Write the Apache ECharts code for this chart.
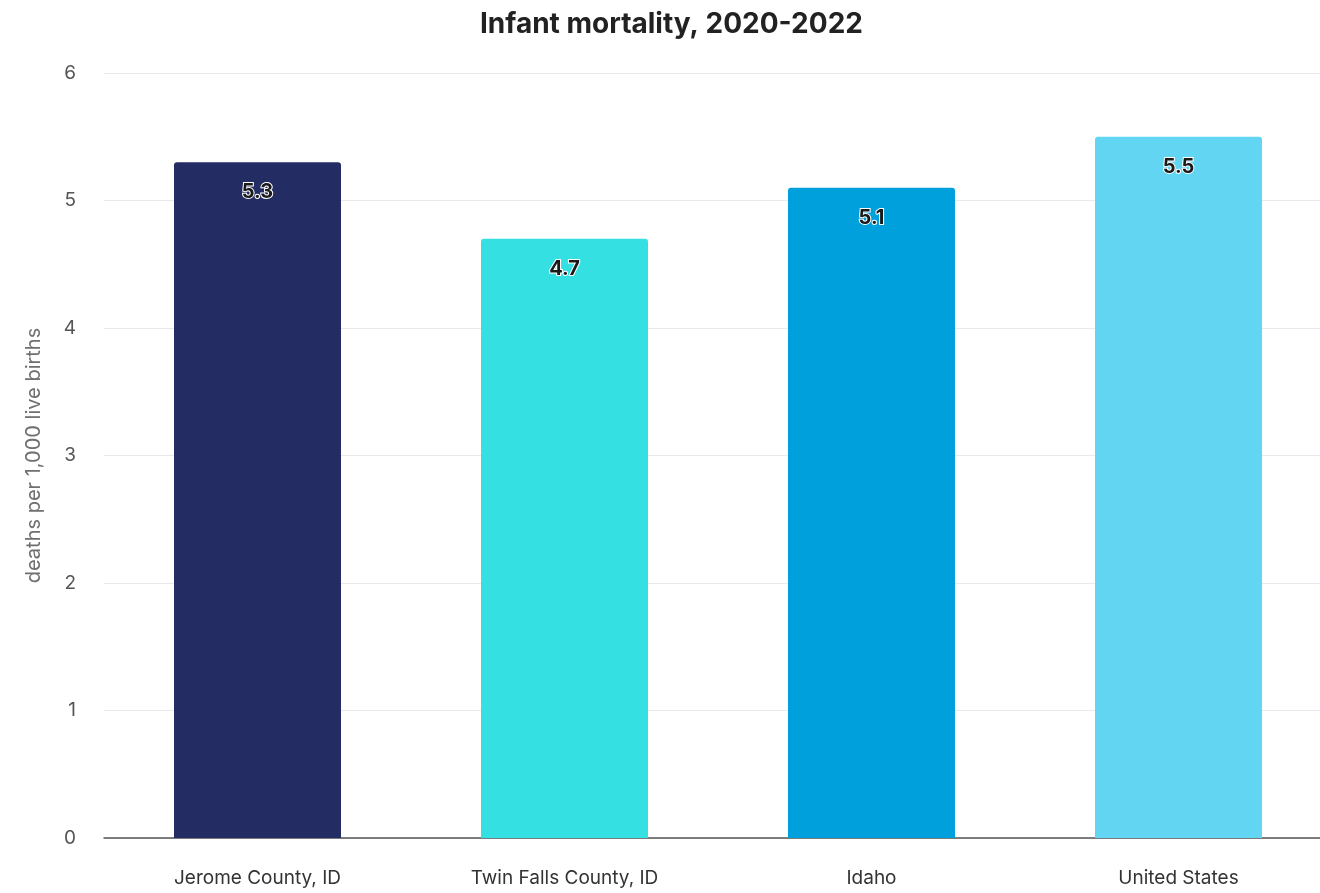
<!DOCTYPE html>
<html>
<head>
<meta charset="utf-8">
<title>Infant mortality, 2020-2022</title>
<script src="https://cdn.jsdelivr.net/npm/echarts@6/dist/echarts.min.js"></script>
<style>
  html, body { margin: 0; padding: 0; background: #ffffff; overflow: hidden; }
  /* canvas runs a little past the right edge of the window so the last bar keeps its full slot */
  #chart { width: 1332px; height: 893px; }
</style>
</head>
<body>
<div id="chart"></div>
<script>
// Places compared
const categories = ['Jerome County, ID', 'Twin Falls County, ID', 'Idaho', 'United States'];
// Infant deaths per 1,000 live births, 2020-2022
const values = [5.3, 4.7, 5.1, 5.5];
// One colour per place
const barColors = ['#232c63', '#34e0e2', '#00a0dc', '#62d5f2'];
// Value axis ticks
const yTicks = [0, 1, 2, 3, 4, 5, 6];

const chart = echarts.init(document.getElementById('chart'), null, { renderer: 'canvas' });

chart.setOption({
  backgroundColor: '#ffffff',
  animation: false,
  title: {
    text: 'Infant mortality, 2020-2022',
    left: 475,
    top: 6,
    textStyle: {
      fontFamily: 'Inter',
      fontSize: 28,
      fontWeight: 'bold',
      color: '#222222'
    }
  },
  grid: {
    left: 104,
    top: 73,
    right: 0,
    bottom: 55,
    containLabel: false
  },
  xAxis: {
    type: 'category',
    data: categories,
    axisTick: { show: false },
    axisLine: { show: true, lineStyle: { color: '#555555', width: 1.5 } },
    axisLabel: {
      margin: 31,
      fontFamily: 'Inter',
      fontSize: 19,
      color: '#333333'
    }
  },
  yAxis: {
    type: 'value',
    min: yTicks[0],
    max: yTicks[yTicks.length - 1],
    interval: 1,
    name: 'deaths per 1,000 live births',
    nameLocation: 'middle',
    nameGap: 60,
    nameRotate: 90,
    nameTextStyle: {
      fontFamily: 'Inter',
      fontSize: 20,
      color: '#707070'
    },
    axisLine: { show: false },
    axisTick: { show: false },
    axisLabel: {
      margin: 28,
      fontFamily: 'Inter',
      fontSize: 19,
      color: '#555555'
    },
    splitLine: { lineStyle: { color: '#e9e9ec', width: 1 } }
  },
  series: [{
    type: 'bar',
    barWidth: '54.4%',
    data: values.map((v, i) => ({
      value: v,
      itemStyle: { color: barColors[i], borderRadius: [3, 3, 0, 0] }
    })),
    label: {
      show: true,
      position: 'insideTop',
      distance: 20,
      formatter: (p) => p.value.toFixed(1),
      fontFamily: 'Inter',
      fontSize: 20,
      fontWeight: 'bold',
      color: '#1a1a1a',
      textBorderColor: '#ffffff',
      textBorderWidth: 2
    }
  }]
});
</script>
</body>
</html>
